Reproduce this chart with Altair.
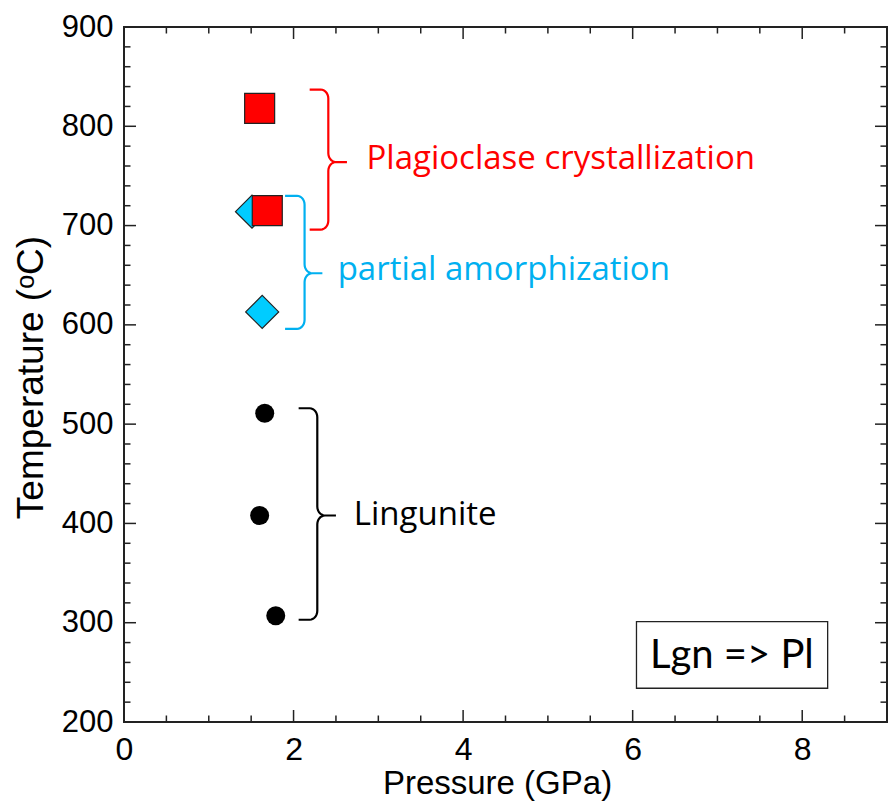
import altair as alt
import pandas as pd
import numpy as np

# ---------------- data ----------------
sq_P = [1.60, 1.69]          # Plagioclase crystallization (red squares)
sq_T = [818, 715]
dm_P = [1.51, 1.63]          # partial amorphization (blue diamonds)
dm_T = [714, 613]
ci_P = [1.66, 1.60, 1.79]    # Lingunite (black circles)
ci_T = [511, 408, 307]

brace_names = ["Plagioclase crystallization", "partial amorphization", "Lingunite"]
brace_colors = ["#FF0000", "#00B0F0", "#000000"]
brace_top = [837, 730, 516]
brace_bot = [696, 596, 303]
brace_mid = [764, 652, 408]
brace_x = [2.41, 2.13, 2.28]
brace_tipL = [2.19, 1.90, 2.06]
brace_tipR = [2.63, 2.34, 2.50]

label_P = [2.86, 2.52, 2.71]
label_T = [757, 645, 398]

box_P = [6.045, 8.30]
box_T = [234, 301]
box_text = "Lgn => Pl"
box_text_P = 7.17
box_text_T = 254

x_major = [0, 2, 4, 6, 8]
x_minor = [v / 2 for v in range(1, 18) if v % 4 != 0]
y_major = [200, 300, 400, 500, 600, 700, 800, 900]
y_minor = [t for t in range(220, 900, 20) if t % 100 != 0]

W, H = 763, 695
XDOM = [0, 9]
YDOM = [200, 900]

# ---------------- helpers ----------------
xs = alt.Scale(domain=XDOM, nice=False, zero=False)
ys = alt.Scale(domain=YDOM, nice=False, zero=False)

def brace_points(tipL, x, tipR, top, mid, bot, rx=0.09, ry=9, n=8):
    pts = [(tipL, top)]
    for a in np.linspace(90, 0, n):
        r = np.radians(a); pts.append((x - rx + rx * np.cos(r), top - ry + ry * np.sin(r)))
    for a in np.linspace(180, 270, n):
        r = np.radians(a); pts.append((x + rx + rx * np.cos(r), mid + ry + ry * np.sin(r)))
    pts.append((tipR, mid))
    pts.append((x + rx, mid))
    for a in np.linspace(90, 180, n):
        r = np.radians(a); pts.append((x + rx + rx * np.cos(r), mid - ry + ry * np.sin(r)))
    for a in np.linspace(0, -90, n):
        r = np.radians(a); pts.append((x - rx + rx * np.cos(r), bot + ry + ry * np.sin(r)))
    pts.append((tipL, bot))
    return pts

rows = []
for i, name in enumerate(brace_names):
    for k, (p, t) in enumerate(brace_points(brace_tipL[i], brace_x[i], brace_tipR[i],
                                            brace_top[i], brace_mid[i], brace_bot[i])):
        rows.append({"g": name, "P": p, "T": t, "o": k})
brace_df = pd.DataFrame(rows)

color_scale = alt.Scale(domain=brace_names, range=brace_colors)

# axes carrier (invisible point)
axis_df = pd.DataFrame({"P": [XDOM[0]], "T": [YDOM[0]]})
axes = alt.Chart(axis_df).mark_point(opacity=0).encode(
    x=alt.X("P:Q", scale=xs, title="Pressure (GPa)",
            axis=alt.Axis(values=x_major, format="d", ticks=False, domain=False, grid=False,
                          labelFlush=False, labelFontSize=32, labelPadding=12,
                          titleFontSize=33, titlePadding=2, titleFontWeight="normal",
                          titleX=373,
                          labelFont="Liberation Sans", titleFont="Liberation Sans",
                          labelColor="#000", titleColor="#000")),
    y=alt.Y("T:Q", scale=ys, title="Temperature (ᵒC)",
            axis=alt.Axis(values=y_major, format="d", ticks=False, domain=False, grid=False,
                          labelFlush=False, labelFontSize=31, labelPadding=11,
                          titleFontSize=37, titlePadding=11, titleFontWeight="normal",
                          titleY=350,
                          labelFont="Liberation Sans", titleFont="Liberation Sans",
                          labelColor="#000", titleColor="#000")),
)

def tick_layer(values, orient, length):
    if orient in ("bottom", "top"):
        df = pd.DataFrame({"P": values})
        if orient == "bottom":
            enc = dict(y=alt.value(H), y2=alt.value(H - length))
        else:
            enc = dict(y=alt.value(0), y2=alt.value(length))
        return alt.Chart(df).mark_rule(color="#222", strokeWidth=1.5).encode(
            x=alt.X("P:Q", scale=xs), **enc)
    df = pd.DataFrame({"T": values})
    if orient == "left":
        enc = dict(x=alt.value(0), x2=alt.value(length))
    else:
        enc = dict(x=alt.value(W), x2=alt.value(W - length))
    return alt.Chart(df).mark_rule(color="#222", strokeWidth=1.5).encode(
        y=alt.Y("T:Q", scale=ys), **enc)

ticks = [tick_layer(x_major, o, 12) for o in ("bottom", "top")] + \
        [tick_layer(x_minor, o, 6.5) for o in ("bottom", "top")] + \
        [tick_layer(y_major, o, 12) for o in ("left", "right")] + \
        [tick_layer(y_minor, o, 6.5) for o in ("left", "right")]

braces = alt.Chart(brace_df).mark_line(strokeWidth=2.2).encode(
    x=alt.X("P:Q", scale=xs), y=alt.Y("T:Q", scale=ys),
    color=alt.Color("g:N", scale=color_scale, legend=None),
    order="o:Q", detail="g:N")

diamonds = alt.Chart(pd.DataFrame({"P": dm_P, "T": dm_T})).mark_point(
    shape="diamond", size=1090, filled=True, fill="#00CCFF", stroke="#222",
    strokeWidth=1.2, opacity=1).encode(x=alt.X("P:Q", scale=xs), y=alt.Y("T:Q", scale=ys))

squares = alt.Chart(pd.DataFrame({"P": sq_P, "T": sq_T})).mark_point(
    shape="square", size=900, filled=True, fill="#FF0000", stroke="#222",
    strokeWidth=1.2, opacity=1).encode(x=alt.X("P:Q", scale=xs), y=alt.Y("T:Q", scale=ys))

circles = alt.Chart(pd.DataFrame({"P": ci_P, "T": ci_T})).mark_point(
    shape="circle", size=361, filled=True, fill="#000000", opacity=1).encode(
    x=alt.X("P:Q", scale=xs), y=alt.Y("T:Q", scale=ys))

labels = alt.Chart(pd.DataFrame({"P": label_P, "T": label_T, "g": brace_names})).mark_text(
    align="left", baseline="alphabetic", font="Open Sans", fontSize=33).encode(
    x=alt.X("P:Q", scale=xs), y=alt.Y("T:Q", scale=ys), text="g:N",
    color=alt.Color("g:N", scale=color_scale, legend=None))

box = alt.Chart(pd.DataFrame({"P": [box_P[0]], "P2": [box_P[1]], "T": [box_T[0]], "T2": [box_T[1]]})).mark_rect(
    fill="white", stroke="#222", strokeWidth=1.3).encode(
    x=alt.X("P:Q", scale=xs), x2="P2:Q", y=alt.Y("T:Q", scale=ys), y2="T2:Q")

box_label = alt.Chart(pd.DataFrame({"P": [box_text_P], "T": [box_text_T], "t": [box_text]})).mark_text(
    align="center", baseline="alphabetic", font="Lato", fontSize=40, color="#000").encode(
    x=alt.X("P:Q", scale=xs), y=alt.Y("T:Q", scale=ys), text="t:N")

chart = alt.layer(axes, *ticks, braces, diamonds, squares, circles, labels, box, box_label).properties(
    width=W, height=H, autosize="none",
    padding={"left": 116, "top": 19, "right": 1, "bottom": 79},
).configure_view(stroke="#222", strokeWidth=2)

chart.save("out.html", embed_options={"renderer": "svg", "actions": False})
